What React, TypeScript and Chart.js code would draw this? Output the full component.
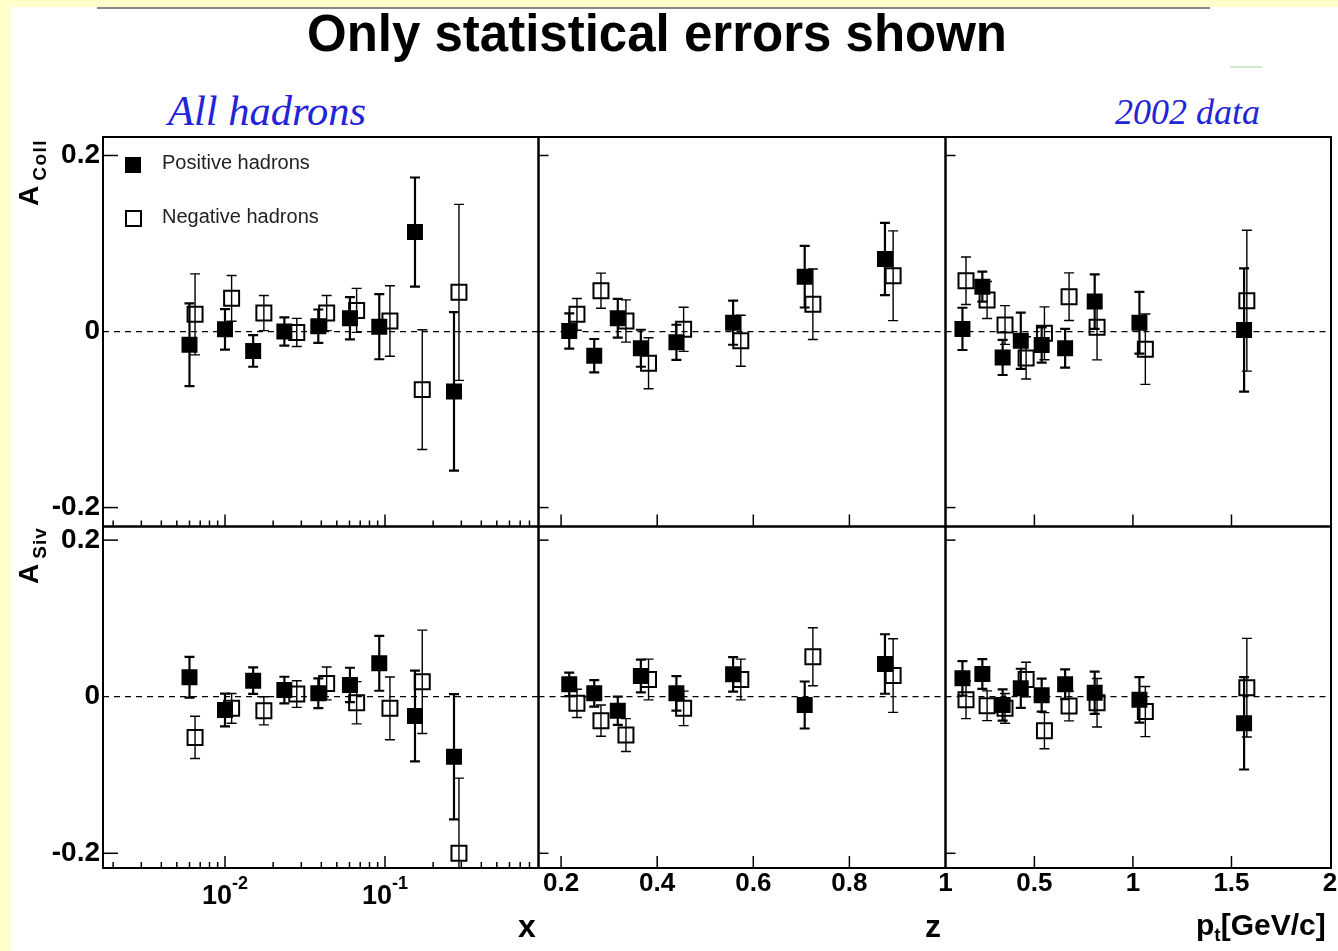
import React, { useEffect, useRef } from 'react';
import { Chart, registerables } from 'chart.js';

Chart.register(...registerables);

const SANS = "'Liberation Sans', Arial, Helvetica, sans-serif";
const SERIF = "'Liberation Serif', 'Times New Roman', Times, serif";

// ---------------- bins (x positions of the points) ----------------
const X_BINS_POS = [0.0060, 0.0100, 0.0150, 0.0235, 0.0383, 0.0604, 0.0921, 0.154, 0.270];
const X_BINS_NEG = [0.0065, 0.0110, 0.0175, 0.0281, 0.0432, 0.0665, 0.1074, 0.171, 0.290];
const Z_BINS_POS = [0.217, 0.269, 0.318, 0.366, 0.440, 0.558, 0.707, 0.874];
const Z_BINS_NEG = [0.233, 0.283, 0.335, 0.382, 0.455, 0.574, 0.724, 0.891];
const PT_BINS_POS = [0.135, 0.236, 0.339, 0.431, 0.537, 0.656, 0.806, 1.033, 1.564];
const PT_BINS_NEG = [0.153, 0.260, 0.351, 0.458, 0.551, 0.676, 0.818, 1.063, 1.578];

// ---------------- Collins asymmetry ----------------
const COLL_X_POS = [-0.015, 0.0025, -0.022, 0.000, 0.006, 0.015, 0.0055, 0.113, -0.068];
const COLL_X_POS_ERR = [0.047, 0.023, 0.018, 0.016, 0.019, 0.024, 0.037, 0.062, 0.090];
const COLL_X_NEG = [0.0195, 0.0377, 0.021, -0.001, 0.021, 0.024, 0.012, -0.066, 0.0445];
const COLL_X_NEG_ERR = [0.046, 0.026, 0.020, 0.016, 0.020, 0.025, 0.040, 0.068, 0.100];

const COLL_Z_POS = [0.0006, -0.0275, 0.015, -0.019, -0.0123, 0.010, 0.0623, 0.0824];
const COLL_Z_POS_ERR = [0.020, 0.019, 0.022, 0.021, 0.020, 0.025, 0.035, 0.041];
const COLL_Z_NEG = [0.0195, 0.0464, 0.012, -0.036, 0.0025, -0.0105, 0.031, 0.0634];
const COLL_Z_NEG_ERR = [0.018, 0.020, 0.024, 0.029, 0.025, 0.029, 0.040, 0.051];

const COLL_PT_POS = [0.003, 0.051, -0.0294, -0.0105, -0.0153, -0.019, 0.034, 0.010, 0.0017];
const COLL_PT_POS_ERR = [0.024, 0.017, 0.020, 0.032, 0.020, 0.022, 0.031, 0.035, 0.070];
const COLL_PT_NEG = [0.0577, 0.0358, 0.0074, -0.030, -0.002, 0.0396, 0.0048, -0.020, 0.035];
const COLL_PT_NEG_ERR = [0.027, 0.021, 0.022, 0.024, 0.030, 0.027, 0.037, 0.040, 0.080];

// ---------------- Sivers asymmetry ----------------
const SIV_X_POS = [0.0248, -0.017, 0.0205, 0.0085, 0.0043, 0.015, 0.0426, -0.0246, -0.0766];
const SIV_X_POS_ERR = [0.026, 0.021, 0.017, 0.017, 0.019, 0.022, 0.035, 0.058, 0.080];
const SIV_X_NEG = [-0.052, -0.0149, -0.018, 0.0034, 0.017, -0.0077, -0.0149, 0.019, -0.200];
const SIV_X_NEG_ERR = [0.027, 0.019, 0.018, 0.017, 0.021, 0.027, 0.040, 0.066, 0.096];

const SIV_Z_POS = [0.0158, 0.0043, -0.018, 0.0264, 0.0043, 0.0286, -0.0106, 0.0418];
const SIV_Z_POS_ERR = [0.015, 0.017, 0.018, 0.021, 0.022, 0.022, 0.030, 0.038];
const SIV_Z_NEG = [-0.0085, -0.0306, -0.049, 0.022, -0.0149, 0.022, 0.051, 0.027];
const SIV_Z_NEG_ERR = [0.018, 0.020, 0.021, 0.026, 0.022, 0.026, 0.037, 0.047];

const SIV_PT_POS = [0.0235, 0.029, -0.0106, 0.0107, 0.002, 0.0158, 0.0051, -0.004, -0.034];
const SIV_PT_POS_ERR = [0.022, 0.019, 0.020, 0.025, 0.021, 0.019, 0.027, 0.029, 0.059];
const SIV_PT_NEG = [-0.004, -0.0115, -0.0149, 0.022, -0.0434, -0.0119, -0.0077, -0.019, 0.0115];
const SIV_PT_NEG_ERR = [0.024, 0.019, 0.019, 0.022, 0.023, 0.019, 0.031, 0.032, 0.063];

// ---------------- ticks ----------------
const Y_TICKS = [-0.2, 0, 0.2];
const Y_TICK_MARKS = [-0.2, 0.2];
const X_LOG_MAJOR = [0.01, 0.1];
const X_LOG_LABELS = [0.01, 0.1];
const X_LOG_MINOR: number[] = [];
for (const dec of [0.001, 0.01, 0.1]) for (let m = 2; m <= 9; m++) X_LOG_MINOR.push(m * dec);
const Z_TICKS = [0.2, 0.4, 0.6, 0.8, 1];
const PT_TICKS = [0.5, 1, 1.5, 2];

// ---------------- axis ranges ----------------
const Y_RANGE_COLL = [-0.2215, 0.221];
const Y_RANGE_SIV = [-0.2188, 0.2174];
const X_RANGE = [0.001728, 0.911];
const Z_RANGE = [0.153, 1.0];
const PT_RANGE = [0.049, 2.005];

// ---------------- layout ----------------
const W = 1338;
const H = 951;
const COL_EDGES = [103, 538.5, 945.5, 1331];
const ROW_EDGES = [137, 526.5, 868];
const Y_AXIS_W = 90;
const X_AXIS_H = 60;

const COLUMNS = [
  { type: 'logarithmic', range: X_RANGE, posBins: X_BINS_POS, negBins: X_BINS_NEG, major: X_LOG_MAJOR, minor: X_LOG_MINOR, labels: null as number[] | null, logLabels: X_LOG_LABELS as number[] | null, yTickLen: 15 },
  { type: 'linear', range: Z_RANGE, posBins: Z_BINS_POS, negBins: Z_BINS_NEG, major: Z_TICKS, minor: [] as number[], labels: Z_TICKS, logLabels: null, yTickLen: 10 },
  { type: 'linear', range: PT_RANGE, posBins: PT_BINS_POS, negBins: PT_BINS_NEG, major: PT_TICKS, minor: [] as number[], labels: PT_TICKS, logLabels: null, yTickLen: 10 },
];

const ROWS = [
  {
    range: Y_RANGE_COLL,
    series: [
      [COLL_X_POS, COLL_X_POS_ERR, COLL_X_NEG, COLL_X_NEG_ERR],
      [COLL_Z_POS, COLL_Z_POS_ERR, COLL_Z_NEG, COLL_Z_NEG_ERR],
      [COLL_PT_POS, COLL_PT_POS_ERR, COLL_PT_NEG, COLL_PT_NEG_ERR],
    ],
  },
  {
    range: Y_RANGE_SIV,
    series: [
      [SIV_X_POS, SIV_X_POS_ERR, SIV_X_NEG, SIV_X_NEG_ERR],
      [SIV_Z_POS, SIV_Z_POS_ERR, SIV_Z_NEG, SIV_Z_NEG_ERR],
      [SIV_PT_POS, SIV_PT_POS_ERR, SIV_PT_NEG, SIV_PT_NEG_ERR],
    ],
  },
];

function line(ctx: CanvasRenderingContext2D, x1: number, y1: number, x2: number, y2: number) {
  ctx.beginPath();
  ctx.moveTo(x1, y1);
  ctx.lineTo(x2, y2);
  ctx.stroke();
}

const rootPlugin = {
  id: 'rootFrame',
  beforeDatasetsDraw(chart: any) {
    const { ctx, chartArea: a, scales } = chart;
    const y0 = scales.y.getPixelForValue(0);
    ctx.save();
    ctx.strokeStyle = '#000';
    ctx.lineWidth = 1.3;
    ctx.setLineDash([6, 5]);
    line(ctx, a.left, y0, a.right, y0);
    ctx.restore();
  },
  beforeDatasetDraw(chart: any, args: any) {
    const { ctx, chartArea: a, scales } = chart;
    const ds = chart.data.datasets[args.index];
    const errs: number[] = ds.errors || [];
    const ys = scales.y;
    ctx.save();
    ctx.beginPath();
    ctx.rect(a.left, a.top, a.right - a.left, a.bottom - a.top);
    ctx.clip();
    ctx.strokeStyle = '#000';
    ctx.lineWidth = ds.errWidth || 1.5;
    args.meta.data.forEach((pt: any, i: number) => {
      const v = ds.data[i].y;
      const e = errs[i];
      const top = ys.getPixelForValue(v + e);
      const bot = ys.getPixelForValue(v - e);
      const x = pt.x;
      line(ctx, x, top, x, bot);
      line(ctx, x - 5, top, x + 5, top);
      line(ctx, x - 5, bot, x + 5, bot);
    });
    ctx.restore();
  },
  afterDraw(chart: any, _args: any, opts: any) {
    const { ctx, chartArea: a, scales } = chart;
    const xs = scales.x;
    const ys = scales.y;
    ctx.save();
    ctx.strokeStyle = '#000';
    ctx.setLineDash([]);
    ctx.lineWidth = 1.5;
    for (const v of opts.yTicks) {
      const py = ys.getPixelForValue(v);
      line(ctx, a.left, py, a.left + opts.yTickLen, py);
    }
    for (const v of opts.xMajor) {
      const px = xs.getPixelForValue(v);
      if (px > a.left + 1 && px < a.right - 1) line(ctx, px, a.bottom, px, a.bottom - 12);
    }
    for (const v of opts.xMinor) {
      const px = xs.getPixelForValue(v);
      if (px > a.left + 1 && px < a.right - 1) line(ctx, px, a.bottom, px, a.bottom - 6);
    }
    ctx.lineWidth = 2;
    ctx.strokeRect(a.left, a.top, a.right - a.left, a.bottom - a.top);
    if (opts.logLabels) {
      ctx.fillStyle = '#000';
      ctx.textAlign = 'left';
      ctx.textBaseline = 'alphabetic';
      for (const v of opts.logLabels) {
        const px = xs.getPixelForValue(v);
        const exp = String(Math.round(Math.log10(v)));
        ctx.font = `bold 27px ${SANS}`;
        const wb = ctx.measureText('10').width;
        ctx.font = `bold 18px ${SANS}`;
        const ws = ctx.measureText(exp).width;
        const x0 = px - (wb + ws) / 2;
        ctx.font = `bold 27px ${SANS}`;
        ctx.fillText('10', x0, a.bottom + 36);
        ctx.font = `bold 18px ${SANS}`;
        ctx.fillText(exp, x0 + wb, a.bottom + 21);
      }
    }
    ctx.restore();
  },
};

function buildConfig(row: number, col: number) {
  const c = COLUMNS[col];
  const r = ROWS[row];
  const [posY, posErr, negY, negErr] = r.series[col];
  const isBottom = row === 1;
  const isLeft = col === 0;
  const showX = isBottom && !!c.labels;
  const left = COL_EDGES[col];
  const right = COL_EDGES[col + 1];
  const top = ROW_EDGES[row];
  const bottom = ROW_EDGES[row + 1];
  const xTicks = c.labels || c.major;
  return {
    type: 'scatter',
    data: {
      datasets: [
        {
          label: 'Negative hadrons',
          data: c.negBins.map((x: number, i: number) => ({ x, y: negY[i] })),
          errors: negErr,
          errWidth: 1.4,
          pointStyle: 'rect',
          pointRadius: 10.6,
          pointBackgroundColor: 'rgba(0,0,0,0)',
          pointBorderColor: '#000',
          pointBorderWidth: 2,
          showLine: false,
        },
        {
          label: 'Positive hadrons',
          data: c.posBins.map((x: number, i: number) => ({ x, y: posY[i] })),
          errors: posErr,
          errWidth: 2.2,
          pointStyle: 'rect',
          pointRadius: 11.3,
          pointBackgroundColor: '#000',
          pointBorderColor: '#000',
          pointBorderWidth: 0,
          showLine: false,
        },
      ],
    },
    options: {
      animation: false,
      responsive: false,
      devicePixelRatio: 1,
      events: [],
      layout: {
        autoPadding: false,
        padding: {
          left: isLeft ? left - Y_AXIS_W : left,
          top,
          right: W - right,
          bottom: showX ? H - bottom - X_AXIS_H : H - bottom,
        },
      },
      plugins: {
        legend: { display: false },
        tooltip: { enabled: false },
        rootFrame: {
          yTicks: Y_TICK_MARKS,
          yTickLen: c.yTickLen,
          xMajor: c.major,
          xMinor: c.minor,
          logLabels: isBottom ? c.logLabels : null,
        },
      },
      scales: {
        x: {
          type: c.type,
          min: c.range[0],
          max: c.range[1],
          display: showX,
          grid: { display: false, drawTicks: false, tickLength: 0 },
          border: { display: false },
          ticks: {
            autoSkip: false,
            maxRotation: 0,
            minRotation: 0,
            padding: 0,
            color: '#000',
            font: { family: SANS, size: 26, weight: 'bold' },
            callback: (v: number) => String(v),
          },
          afterBuildTicks: (s: any) => {
            s.ticks = xTicks.map((v: number) => ({ value: v }));
          },
          afterFit: (s: any) => {
            s.height = showX ? X_AXIS_H : 0;
            s.paddingLeft = 0;
            s.paddingRight = 0;
          },
        },
        y: {
          type: 'linear',
          min: r.range[0],
          max: r.range[1],
          display: isLeft,
          grid: { display: false, drawTicks: false, tickLength: 0 },
          border: { display: false },
          ticks: {
            autoSkip: false,
            padding: 3,
            color: '#000',
            font: { family: SANS, size: 28, weight: 'bold' },
            callback: (v: number) => (v === 0 ? '0' : String(v)),
          },
          afterBuildTicks: (s: any) => {
            s.ticks = Y_TICKS.map((v) => ({ value: v }));
          },
          afterFit: (s: any) => {
            s.width = isLeft ? Y_AXIS_W : 0;
            s.paddingTop = 0;
            s.paddingBottom = 0;
          },
        },
      },
    },
    plugins: [rootPlugin],
  };
}

function Panel({ row, col }: { row: number; col: number }) {
  const ref = useRef<HTMLCanvasElement>(null);
  useEffect(() => {
    const chart = new Chart(ref.current as HTMLCanvasElement, buildConfig(row, col) as any);
    return () => chart.destroy();
  }, [row, col]);
  return (
    <canvas
      ref={ref}
      width={W}
      height={H}
      style={{ position: 'absolute', left: 0, top: 0, width: W, height: H, pointerEvents: 'none' }}
    />
  );
}

function YTitle({ left, top, main, sub, spacing }: { left: number; top: number; main: string; sub: string; spacing: number }) {
  return (
    <div
      style={{
        position: 'absolute',
        left,
        top,
        transform: 'rotate(-90deg)',
        transformOrigin: '0 0',
        whiteSpace: 'nowrap',
        font: `bold 28px/28px ${SANS}`,
        color: '#000',
      }}
    >
      {main}
      <span style={{ fontSize: 19, position: 'relative', top: 8, marginLeft: 5, letterSpacing: spacing }}>{sub}</span>
    </div>
  );
}

const abs = (o: React.CSSProperties): React.CSSProperties => ({ position: 'absolute', whiteSpace: 'nowrap', ...o });

export default function App() {
  const panels: JSX.Element[] = [];
  for (let r = 0; r < 2; r++) for (let c = 0; c < 3; c++) panels.push(<Panel key={`${r}-${c}`} row={r} col={c} />);
  return (
    <div style={{ position: 'absolute', left: 0, top: 0, width: W, height: H, background: '#fff', overflow: 'hidden' }}>
      <div style={abs({ left: 0, top: 0, width: W, height: 7, background: '#FFFFCC' })} />
      <div style={abs({ left: 0, top: 0, width: 11, height: H, background: '#FFFFCC' })} />
      <div style={abs({ left: 97, top: 7, width: 1113, height: 1.5, background: '#888' })} />
      <div style={abs({ left: 1230, top: 66, width: 32, height: 2, background: '#cfe9c6' })} />

      <div style={abs({ left: 157, top: 8, width: 1000, textAlign: 'center', font: `bold 51px/51px ${SANS}`, color: '#000' })}>
        Only statistical errors shown
      </div>
      <div style={abs({ left: 168, top: 90.4, font: `italic 42.5px/42.5px ${SERIF}`, color: '#2323d8' })}>All hadrons</div>
      <div style={abs({ left: 1115, top: 94.3, font: `italic 36px/36px ${SERIF}`, color: '#2323d8' })}>2002 data</div>

      {panels}

      <YTitle left={14.5} top={206} main="A" sub="Coll" spacing={1.5} />
      <YTitle left={14.5} top={584} main="A" sub="Siv" spacing={1} />

      <div style={abs({ left: 125, top: 157, width: 16, height: 16, background: '#000' })} />
      <div style={abs({ left: 162, top: 152, font: `20px/20px ${SANS}`, color: '#222' })}>Positive hadrons</div>
      <div style={abs({ left: 125, top: 210, width: 13, height: 13, border: '2px solid #000' })} />
      <div style={abs({ left: 162, top: 206.4, font: `20px/20px ${SANS}`, color: '#222' })}>Negative hadrons</div>

      <div style={abs({ left: 518, top: 910, font: `bold 32px/32px ${SANS}`, color: '#000' })}>x</div>
      <div style={abs({ left: 925, top: 910, font: `bold 32px/32px ${SANS}`, color: '#000' })}>z</div>
      <div style={abs({ left: 1196, top: 910, font: `bold 30px/30px ${SANS}`, color: '#000' })}>
        p<span style={{ fontSize: 19, position: 'relative', top: 6 }}>t</span>[GeV/c]
      </div>
    </div>
  );
}
